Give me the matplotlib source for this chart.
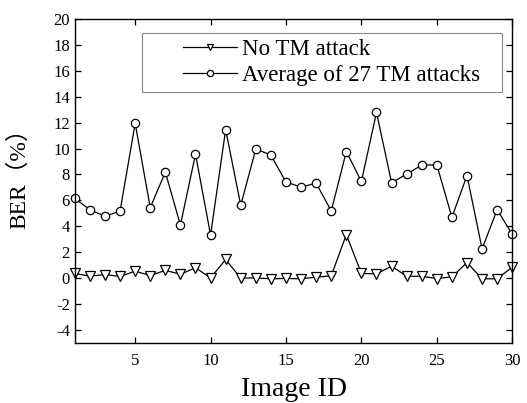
import matplotlib

matplotlib.use("Agg")
import matplotlib.pyplot as plt
from matplotlib.patches import Rectangle

image_ids = list(range(1, 31))
ber_no_attack = [0.36, 0.15, 0.28, 0.13, 0.54, 0.20, 0.60, 0.30, 0.80, 0.02,
                 1.44, 0.00, 0.02, -0.05, -0.02, -0.05, 0.08, 0.18, 3.36, 0.36,
                 0.33, 0.92, 0.15, 0.15, -0.03, 0.10, 1.20, -0.05, -0.05, 0.85]
ber_avg_attacks = [6.15, 5.28, 4.77, 5.18, 11.95, 5.44, 8.18, 4.10, 9.56, 3.33,
                   11.46, 5.62, 9.97, 9.49, 7.41, 7.03, 7.33, 5.18, 9.77, 7.46,
                   12.79, 7.36, 8.03, 8.72, 8.74, 4.69, 7.92, 2.26, 5.28, 3.38]

plt.rcParams["font.family"] = ["Liberation Serif", "Noto Sans CJK SC"]
plt.rcParams["axes.unicode_minus"] = False

fig = plt.figure(figsize=(5.27, 4.03), dpi=100)
ax = fig.add_axes([0.142, 0.149, 0.830, 0.804])

ax.plot(image_ids, ber_no_attack, color="black", linewidth=0.9, marker="v",
        markersize=6.5, markerfacecolor="white", markeredgecolor="black",
        markeredgewidth=0.9, label="No TM attack", clip_on=False)
ax.plot(image_ids, ber_avg_attacks, color="black", linewidth=0.9, marker="o",
        markersize=6, markerfacecolor="white", markeredgecolor="black",
        markeredgewidth=0.9, label="Average of 27 TM attacks", clip_on=False)

ax.set_xlim(1, 30)
ax.set_ylim(-5, 20)
ax.set_xticks([5, 10, 15, 20, 25, 30])
ax.set_yticks(range(-4, 21, 2))
ax.tick_params(direction="in", top=True, right=True, labeltop=False,
               labelright=False, labelsize=12, length=4, width=0.9)
ax.tick_params(axis="x", pad=7)
for spine in ax.spines.values():
    spine.set_linewidth(1.0)

ax.set_xlabel("Image ID", fontsize=20, labelpad=6)
ax.set_ylabel("BER（%）", fontsize=17)
ax.yaxis.set_label_coords(-0.103, 0.525)

# legend frame drawn separately so the padding left of the handles matches
ax.add_patch(Rectangle((0.153, 0.775), 0.824, 0.182, transform=ax.transAxes,
                       facecolor="white", edgecolor="#888888", linewidth=0.8,
                       zorder=4))
leg = ax.legend(loc="center left", bbox_to_anchor=(0.247, 0.865), fontsize=16.5,
                frameon=False, handlelength=2.36, handletextpad=0.2, numpoints=1,
                markerscale=0.75, borderpad=0, labelspacing=0.2, borderaxespad=0)
leg.set_zorder(5)

fig.savefig("out.png", dpi=100)
plt.close(fig)
